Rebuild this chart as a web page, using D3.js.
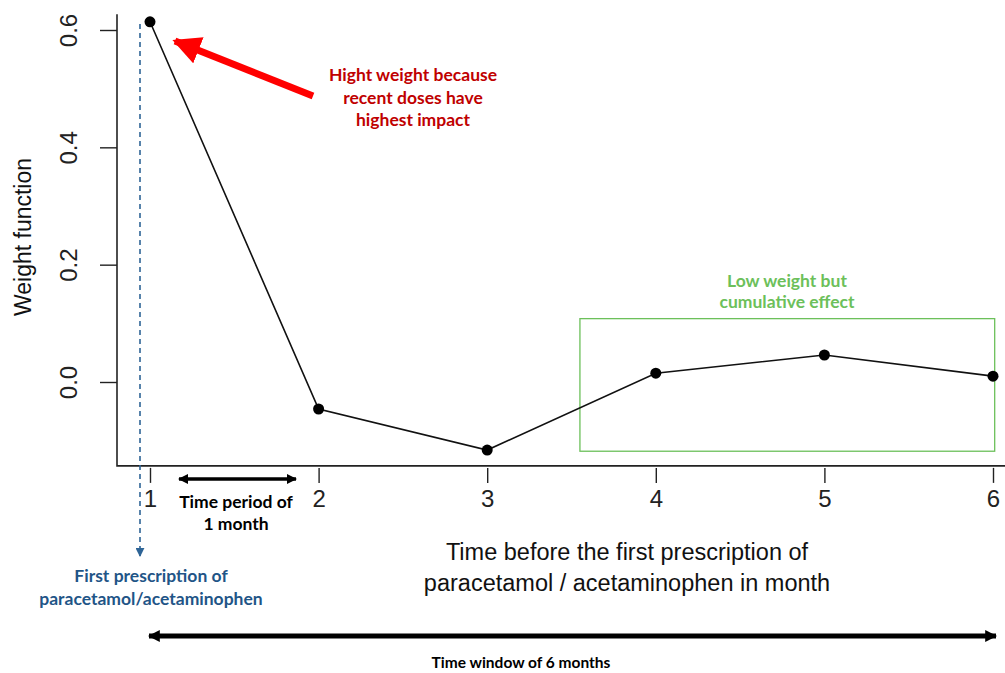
<!DOCTYPE html>
<html>
<head>
<meta charset="utf-8">
<script src="https://cdn.jsdelivr.net/npm/d3@7"></script>
<style>
  body { margin: 0; background: #fff; }
  text { font-family: "Liberation Sans", Arial, sans-serif; }
  .note { font-family: Lato, "Open Sans", sans-serif; font-weight: bold; }
</style>
</head>
<body>
<div id="chart"></div>
<script>
// data
const months = [1, 2, 3, 4, 5, 6];
const weights = [0.614, -0.046, -0.116, 0.015, 0.046, 0.010];
const yTicks = [0, 0.2, 0.4, 0.6];
const xTicks = [1, 2, 3, 4, 5, 6];

const width = 1005, height = 673;

const svg = d3.select('#chart')
    .append('svg')
        .attr('width', width)
        .attr('height', height);

const defs = svg.append('defs');
function marker(id, color, w, h) {
    defs.append('marker')
        .attr('id', id)
        .attr('viewBox', '0 0 10 10')
        .attr('refX', 9).attr('refY', 5)
        .attr('markerWidth', w).attr('markerHeight', h)
        .attr('markerUnits', 'userSpaceOnUse')
        .attr('orient', 'auto-start-reverse')
        .append('path')
            .attr('d', 'M0,0 L10,5 L0,10 Z')
            .attr('fill', color);
}
marker('blueHead', '#2e6496', 9, 9);
marker('redHead', '#ff0000', 28, 28);
marker('blackHead', '#000', 10, 10);
marker('bigHead', '#000', 12, 14);

// scales
const xScale = d3.scaleLinear().domain([1, 6]).range([150, 993]);
const yScale = d3.scaleLinear().domain([0, 0.6]).range([382, 30]);
const plotLeft = 117, plotTop = yScale(0.627), plotBottom = yScale(-0.143);

// L shaped frame
svg.append('path')
    .attr('d', `M${plotLeft},${plotTop} V${plotBottom} H${width}`)
    .attr('fill', 'none')
    .attr('stroke', '#222')
    .attr('stroke-width', 1.6);

// y axis
const yAxisG = svg.append('g')
    .attr('transform', `translate(${plotLeft},0)`)
    .call(d3.axisLeft(yScale).tickValues(yTicks).tickSize(17).tickPadding(0).tickFormat(d3.format('.1f')));
yAxisG.select('.domain').remove();
yAxisG.selectAll('.tick line').attr('stroke', '#222').attr('stroke-width', 1.4);
yAxisG.selectAll('.tick text')
    .attr('font-size', 24)
    .attr('fill', '#222')
    .attr('text-anchor', 'middle')
    .attr('x', 0).attr('dy', 0)
    .attr('transform', 'translate(-46,0) rotate(-90)')
    .attr('dominant-baseline', 'middle');

svg.append('text')
    .attr('transform', 'translate(25,237) rotate(-90)')
    .attr('text-anchor', 'middle')
    .attr('dominant-baseline', 'middle')
    .attr('font-size', 23)
    .attr('fill', '#111')
    .text('Weight function');

// x axis
const xAxisG = svg.append('g')
    .attr('transform', `translate(0,${plotBottom + 2})`)
    .call(d3.axisBottom(xScale).tickValues(xTicks).tickSize(15).tickPadding(7).tickFormat(d3.format('d')));
xAxisG.select('.domain').remove();
xAxisG.selectAll('.tick line').attr('stroke', '#222').attr('stroke-width', 1.4);
xAxisG.selectAll('.tick text').attr('font-size', 24).attr('fill', '#222');

const xTitle = svg.append('text')
    .attr('text-anchor', 'middle')
    .attr('font-size', 23.5)
    .attr('fill', '#111');
xTitle.append('tspan').attr('x', 627).attr('y', 560).text('Time before the first prescription of');
xTitle.append('tspan').attr('x', 627).attr('y', 591).text('paracetamol / acetaminophen in month');

// green box around months 4-6
svg.append('rect')
    .attr('x', xScale(3.55)).attr('y', yScale(0.108))
    .attr('width', xScale(6.01) - xScale(3.55))
    .attr('height', yScale(-0.118) - yScale(0.108))
    .attr('fill', 'none')
    .attr('stroke', '#6cc05a')
    .attr('stroke-width', 1.3);

// blue dashed marker for first prescription
svg.append('line')
    .attr('x1', 140).attr('x2', 140)
    .attr('y1', 24).attr('y2', 556)
    .attr('stroke', '#2e6496')
    .attr('stroke-width', 1.6)
    .attr('stroke-dasharray', '5,4')
    .attr('marker-end', 'url(#blueHead)');

// line + points
const line = d3.line().x((d, i) => xScale(months[i])).y(d => yScale(d));
svg.append('path')
    .datum(weights)
    .attr('d', line)
    .attr('fill', 'none')
    .attr('stroke', '#111')
    .attr('stroke-width', 1.6);
svg.selectAll('circle.pt')
    .data(weights)
    .enter()
    .append('circle')
        .attr('class', 'pt')
        .attr('cx', (d, i) => xScale(months[i]))
        .attr('cy', d => yScale(d))
        .attr('r', 5.5)
        .attr('fill', '#000');

// red arrow + note
svg.append('line')
    .attr('x1', 313).attr('y1', 96)
    .attr('x2', 175).attr('y2', 41)
    .attr('stroke', '#ff0000')
    .attr('stroke-width', 7)
    .attr('marker-end', 'url(#redHead)');
const redNote = svg.append('text')
    .attr('class', 'note')
    .attr('text-anchor', 'middle')
    .attr('font-size', 17.5)
    .attr('fill', '#c00000');
[['Hight weight because', 81], ['recent doses have', 104], ['highest impact', 126]].forEach(([t, y]) => {
    redNote.append('tspan').attr('x', 413).attr('y', y).text(t);
});

// green note
const greenNote = svg.append('text')
    .attr('class', 'note')
    .attr('text-anchor', 'middle')
    .attr('font-size', 17.5)
    .attr('fill', '#6cc05a');
[['Low weight but', 287], ['cumulative effect', 308]].forEach(([t, y]) => {
    greenNote.append('tspan').attr('x', 787).attr('y', y).text(t);
});

// one month double arrow
svg.append('line')
    .attr('x1', 179).attr('x2', 296)
    .attr('y1', 479).attr('y2', 479)
    .attr('stroke', '#000')
    .attr('stroke-width', 3.5)
    .attr('marker-start', 'url(#blackHead)')
    .attr('marker-end', 'url(#blackHead)');
const monthNote = svg.append('text')
    .attr('class', 'note')
    .attr('text-anchor', 'middle')
    .attr('font-size', 17.5)
    .attr('fill', '#000');
[['Time period of', 508], ['1 month', 530]].forEach(([t, y]) => {
    monthNote.append('tspan').attr('x', 236).attr('y', y).text(t);
});

// blue note
const blueNote = svg.append('text')
    .attr('class', 'note')
    .attr('text-anchor', 'middle')
    .attr('font-size', 17.5)
    .attr('fill', '#1f5587');
[['First prescription of', 582], ['paracetamol/acetaminophen', 605]].forEach(([t, y]) => {
    blueNote.append('tspan').attr('x', 151).attr('y', y).text(t);
});

// six month window arrow
svg.append('line')
    .attr('x1', 149).attr('x2', 996)
    .attr('y1', 636).attr('y2', 636)
    .attr('stroke', '#000')
    .attr('stroke-width', 5)
    .attr('marker-start', 'url(#bigHead)')
    .attr('marker-end', 'url(#bigHead)');
svg.append('text')
    .attr('class', 'note')
    .attr('x', 521).attr('y', 668)
    .attr('text-anchor', 'middle')
    .attr('font-size', 15.5)
    .attr('fill', '#000')
    .text('Time window of 6 months');
</script>
</body>
</html>
